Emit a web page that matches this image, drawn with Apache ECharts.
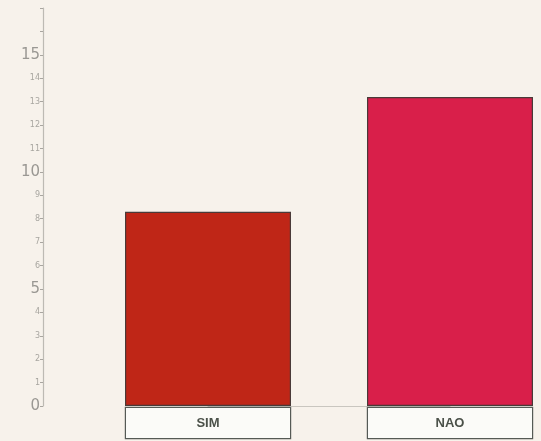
<!DOCTYPE html>
<html>
<head>
<meta charset="utf-8">
<script src="https://cdn.jsdelivr.net/npm/echarts@6/dist/echarts.min.js"></script>
<style>
html,body{margin:0;padding:0;background:#f7f2eb;}
#c{width:541px;height:441px;}
</style>
</head>
<body>
<div id="c"></div>
<script>
const categories = ['SIM', 'NAO'];
const values = [8.3, 13.2];
const barColors = ['#bf2617', '#d91f4a'];
const yMax = 17;
const lastLabel = 15;

const chart = echarts.init(document.getElementById('c'));
chart.setOption({
  backgroundColor: '#f7f2eb',
  animation: false,
  grid: { left: 208, right: 91, top: 8, bottom: 35, containLabel: false },
  xAxis: {
    type: 'category',
    data: categories,
    boundaryGap: false,
    axisLine: { lineStyle: { color: '#c9c6bf', width: 1 } },
    axisTick: { show: false },
    axisLabel: {
      margin: 2,
      width: 164,
      height: 30,
      lineHeight: 30,
      align: 'center',
      backgroundColor: '#fbfbf8',
      borderColor: '#555a55',
      borderWidth: 1.2,
      color: '#4b5149',
      fontFamily: 'Liberation Sans, Arial, sans-serif',
      fontWeight: 'bold',
      fontSize: 13
    }
  },
  yAxis: {
    type: 'value',
    min: 0,
    max: yMax,
    interval: 1,
    offset: 165,
    splitLine: { show: false },
    axisLine: { show: true, lineStyle: { color: '#bdbab3', width: 1.2 } },
    axisTick: { show: true, length: 3, lineStyle: { color: '#a9a6a0' } },
    axisLabel: {
      margin: 3,
      formatter: function (v) {
        if (v > lastLabel) return '';
        return v % 5 === 0 ? '{big|' + v + '}' : '{small|' + v + '}';
      },
      rich: {
        big: { fontSize: 15, color: '#9a9893', fontFamily: 'DejaVu Sans, sans-serif' },
        small: { fontSize: 8, color: '#a8a6a0', fontFamily: 'DejaVu Sans, sans-serif' }
      }
    }
  },
  series: [{
    type: 'bar',
    barWidth: 166,
    data: values.map((v, i) => ({
      value: v,
      itemStyle: { color: barColors[i], borderColor: '#4a3a38', borderWidth: 1.2 }
    }))
  }]
});
</script>
</body>
</html>
